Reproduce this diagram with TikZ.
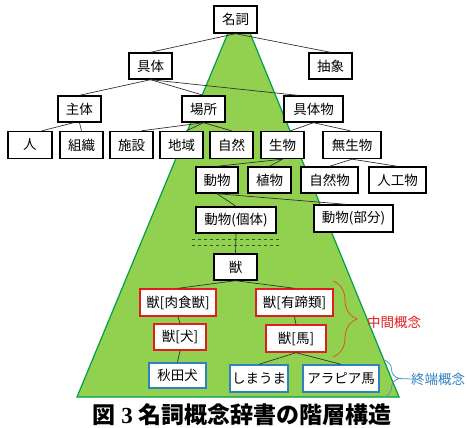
\documentclass[tikz,border=0pt]{standalone}
\usepackage{fontspec}
\setmainfont{Liberation Serif}
\newfontfamily\cjk{Noto Sans CJK JP}
\usetikzlibrary{decorations.pathreplacing}
\definecolor{trigreen}{RGB}{146,208,80}
\definecolor{triedge}{RGB}{0,160,70}
\definecolor{dashgreen}{RGB}{40,90,30}
\definecolor{midred}{RGB}{225,30,30}
\definecolor{endblue}{RGB}{46,130,190}
\definecolor{bracered}{RGB}{225,80,40}
\definecolor{braceblue}{RGB}{80,150,200}
\tikzset{
  box/.style={draw=black, line width=1.4pt, fill=white, inner sep=0pt,
    minimum height=26pt, font=\cjk\fontsize{13.5}{14}\selectfont},
  redbox/.style={box, draw=midred},
  bluebox/.style={box, draw=endblue},
  conn/.style={draw=black!80, line width=0.7pt},
}
\begin{document}
\begin{tikzpicture}[x=1pt,y=-1pt]
\useasboundingbox (0,0) rectangle (467,428);
% green trapezoid
\fill[trigreen, draw=triedge, line width=1.2pt] (228,33) -- (250,33) -- (399,397) -- (77,397) -- cycle;
% dashed separators
\draw[dashgreen, dashed, line width=0.6pt] (192,239.5) -- (279,239.5);
\draw[dashgreen, dashed, line width=0.6pt] (192,245) -- (279,245);
% nodes
\node[box, minimum width=43pt, minimum height=27pt] (meishi) at (235.5,19.5) {名詞};
\node[box, minimum width=43pt] (gutai) at (150.5,66) {具体};
\node[box, minimum width=43pt] (chusho) at (330.5,66) {抽象};
\node[box, minimum width=43pt] (shutai) at (79.5,109) {主体};
\node[box, minimum width=43pt] (basho) at (203.5,109) {場所};
\node[box, minimum width=59pt] (gutaibutsu) at (313.5,109) {具体物};
\node[box, minimum width=44pt, minimum height=27pt] (hito) at (30,145) {人};
\node[box, minimum width=43pt, minimum height=27pt] (soshiki) at (81.5,145) {組織};
\node[box, minimum width=43pt, minimum height=27pt] (shisetsu) at (131.5,145) {施設};
\node[box, minimum width=43pt, minimum height=27pt] (chiiki) at (181.5,145) {地域};
\node[box, minimum width=43pt, minimum height=27pt] (shizen) at (231.5,145) {自然};
\node[box, minimum width=43pt, minimum height=27pt] (seibutsu) at (282.5,145) {生物};
\node[box, minimum width=58pt, minimum height=27pt] (museibutsu) at (352,145) {無生物};
\node[box, minimum width=42pt] (doubutsu) at (217,180) {動物};
\node[box, minimum width=43pt] (shokubutsu) at (269.5,180) {植物};
\node[box, minimum width=57pt] (shizenbutsu) at (329.5,180) {自然物};
\node[box, minimum width=57pt] (jinkoubutsu) at (397.5,180) {人工物};
\node[box, minimum width=80pt] (kotai) at (236,220) {動物(個体)};
\node[box, minimum width=79pt, minimum height=27pt] (bubun) at (353.5,218.5) {動物(部分)};
\node[box, minimum width=43pt] (kemono) at (235.5,267) {獣};
\node[redbox, minimum width=76pt, minimum height=27pt] (nikushoku) at (178,302.5) {獣[肉食獣]};
\node[redbox, minimum width=77pt, minimum height=27pt] (yuutei) at (294.5,302.5) {獣[有蹄類]};
\node[redbox, minimum width=52pt] (inu) at (180,337) {獣[犬]};
\node[redbox, minimum width=60pt, minimum height=27pt] (uma) at (296,338.5) {獣[馬]};
\node[bluebox, minimum width=57pt, minimum height=25pt] (akita) at (177.5,375.5) {秋田犬};
\node[bluebox, minimum width=58pt, minimum height=27pt] (shimauma) at (259,378.5) {しまうま};
\node[bluebox, minimum width=76pt, minimum height=27pt] (arabia) at (341,378.5) {アラピア馬};
% connectors
\draw[conn] (meishi.south) -- (gutai.north);
\draw[conn] (meishi.south) -- (chusho.north);
\draw[conn] (gutai.south) -- (shutai.north);
\draw[conn] (gutai.south) -- (basho.north);
\draw[conn] (gutai.south) -- ([xshift=-16pt]gutaibutsu.north);
\draw[conn] ([xshift=-6pt]shutai.south) -- ([xshift=12pt]hito.north);
\draw[conn] (shutai.south) -- (soshiki.north);
\draw[conn] (basho.south) -- ([xshift=10pt]shisetsu.north);
\draw[conn] (basho.south) -- ([xshift=5pt]chiiki.north);
\draw[conn] (basho.south) -- (shizen.north);
\draw[conn] (gutaibutsu.south) -- ([xshift=8pt]seibutsu.north);
\draw[conn] (gutaibutsu.south) -- ([xshift=-2pt]museibutsu.north);
\draw[conn] (seibutsu.south) -- (doubutsu.north);
\draw[conn] (seibutsu.south) -- (shokubutsu.north);
\draw[conn] (museibutsu.south) -- (shizenbutsu.north);
\draw[conn] (museibutsu.south) -- (jinkoubutsu.north);
\draw[conn] (doubutsu.south) -- (kotai.north);
\draw[conn] (doubutsu.south) -- ([xshift=-8pt]bubun.north);
\draw[conn] (kotai.south) -- (kemono.north);
\draw[conn] (kemono.south) -- (nikushoku.north);
\draw[conn] (kemono.south) -- (yuutei.north);
\draw[conn] (nikushoku.south) -- (inu.north);
\draw[conn] (inu.south) -- (akita.north);
\draw[conn] (yuutei.south) -- (uma.north);
\draw[conn] (uma.south) -- (shimauma.north);
\draw[conn] (uma.south) -- (arabia.north);
% braces and labels
\coordinate (rb1) at (333,281);
\coordinate (rb2) at (333,357);
\draw[bracered, line width=0.8pt, decorate, decoration={brace, amplitude=24pt}] (rb1) -- (rb2);
\node[anchor=west, text=midred, font=\cjk\fontsize{13.5}{14}\selectfont, inner sep=0pt] (midlabel) at (367,322) {中間概念};
\coordinate (bb1) at (384,360);
\coordinate (bb2) at (384,397);
\draw[braceblue, line width=0.8pt, decorate, decoration={brace, amplitude=15pt}] (bb1) -- (bb2);
\coordinate (btip) at (399,378.5);
\node[anchor=west, text=endblue, font=\cjk\fontsize{13.5}{14}\selectfont, inner sep=0pt] (endlabel) at (411,379) {終端概念};
\draw[braceblue, line width=0.8pt] (btip) -- (endlabel.west);
% caption
\node[font=\bfseries\fontsize{23}{24}\selectfont, inner sep=0pt] (caption) at (242,415) {{\cjk 図} 3 {\cjk 名詞概念辞書の階層構造}};
\end{tikzpicture}
\end{document}
